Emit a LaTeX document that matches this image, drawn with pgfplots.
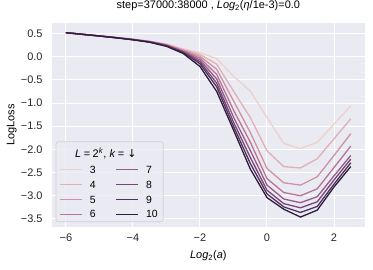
\documentclass[border=0pt]{standalone}
\usepackage{fontspec}
\setmainfont{Liberation Sans}
\newfontfamily\dejavu{DejaVu Sans}
\usepackage{pgfplots}
\usepackage{pgfplotstable}
\pgfplotsset{compat=1.18}
\definecolor{bgc}{HTML}{EAEAF2}
\definecolor{c3}{RGB}{237,209,203}
\definecolor{c4}{RGB}{225,176,180}
\definecolor{c5}{RGB}{207,145,163}
\definecolor{c6}{RGB}{184,116,150}
\definecolor{c7}{RGB}{154,91,136}
\definecolor{c8}{RGB}{119,69,118}
\definecolor{c9}{RGB}{81,49,94}
\definecolor{c10}{RGB}{45,30,62}
\pgfplotstableread{
x k3 k4 k5 k6 k7 k8 k9 k10
-6 0.52 0.52 0.52 0.52 0.52 0.52 0.52 0.52
-5.5 0.485 0.485 0.485 0.484 0.484 0.484 0.483 0.483
-5 0.45 0.45 0.45 0.449 0.449 0.448 0.448 0.447
-4.5 0.415 0.415 0.414 0.413 0.412 0.411 0.41 0.409
-4 0.38 0.378 0.376 0.374 0.372 0.37 0.368 0.366
-3.5 0.335 0.332 0.329 0.326 0.323 0.32 0.317 0.313
-3 0.275 0.268 0.262 0.255 0.248 0.241 0.233 0.225
-2.5 0.17 0.155 0.14 0.125 0.11 0.1 0.09 0.07
-2 0.09 0.05 0.01 -0.03 -0.07 -0.11 -0.15 -0.21
-1.5 -0.04 -0.16 -0.27 -0.38 -0.48 -0.57 -0.65 -0.75
-1 -0.42 -0.74 -0.95 -1.15 -1.30 -1.41 -1.50 -1.58
-0.5 -0.74 -1.31 -1.63 -1.84 -2.02 -2.17 -2.30 -2.42
0 -1.31 -2.03 -2.41 -2.63 -2.77 -2.88 -2.96 -3.04
0.5 -1.87 -2.37 -2.72 -2.93 -3.07 -3.17 -3.24 -3.29
1 -1.98 -2.40 -2.77 -3.00 -3.15 -3.26 -3.36 -3.46
1.5 -1.85 -2.20 -2.59 -2.85 -3.02 -3.13 -3.23 -3.31
2 -1.45 -1.77 -2.13 -2.39 -2.57 -2.66 -2.75 -2.81
2.5 -1.06 -1.34 -1.66 -1.93 -2.13 -2.21 -2.29 -2.37
}\data
\begin{document}
\begin{tikzpicture}
\path[use as bounding box] (-51.7bp,-42.3bp) rectangle (321.3bp,226.8bp);
\begin{axis}[
  scale only axis,
  width=313.3bp, height=203.4bp,
  xmin=-6.425, xmax=2.925,
  ymin=-3.67, ymax=0.72,
  axis background/.style={fill=bgc},
  axis line style={draw=none},
  major tick length=0pt,
  grid=major,
  grid style={white, line width=1bp},
  xtick={-6,-4,-2,0,2},
  xticklabels={−6,−4,−2,0,2},
  ytick={-3.5,-3,-2.5,-2,-1.5,-1,-0.5,0,0.5},
  yticklabels={−3.5,−3.0,−2.5,−2.0,−1.5,−1.0,−0.5,0.0,0.5},
  xticklabel style={font=\fontsize{11}{13}\selectfont, inner sep=0pt, yshift=-6.5bp, text=black!85},
  yticklabel style={font=\fontsize{11}{13}\selectfont, inner sep=0pt, xshift=-9bp, text=black!85},
  xlabel={\textit{Log}\textsubscript{2}(\textit{a})},
  ylabel={LogLoss},
  xlabel style={at={(axis description cs:0.5,-0.144)}, anchor=center, font=\fontsize{11}{13}\selectfont},
  ylabel style={at={(axis description cs:-0.1277,0.5)}, anchor=center, font=\fontsize{11}{13}\selectfont},
  title={step=37000:38000 , \textit{Log}\textsubscript{2}(\textit{η}/1e-3)=0.0},
  title style={at={(axis description cs:0.5,1.0556)}, anchor=center, font=\fontsize{11}{13}\selectfont},
  legend columns=4,
  transpose legend,
  legend image code/.code={\draw[#1] (0bp,0bp) -- (22bp,0bp);},
  legend style={at={(0.0233,0.302)}, anchor=north west, draw=none, fill=none,
    inner sep=0pt, row sep=6.3bp, font=\fontsize{10.5}{12}\selectfont,
    nodes={inner sep=0.5bp, text height=7.5bp, text depth=0pt},
    /tikz/every odd column/.append style={column sep=7bp},
    /tikz/every even column/.append style={column sep=19bp}},
  legend cell align=left,
]
\addplot[c3, line width=1.3bp] table[y=k3] {\data}; \addlegendentry{3}
\addplot[c4, line width=1.3bp] table[y=k4] {\data}; \addlegendentry{4}
\addplot[c5, line width=1.3bp] table[y=k5] {\data}; \addlegendentry{5}
\addplot[c6, line width=1.3bp] table[y=k6] {\data}; \addlegendentry{6}
\addplot[c7, line width=1.3bp] table[y=k7] {\data}; \addlegendentry{7}
\addplot[c8, line width=1.3bp] table[y=k8] {\data}; \addlegendentry{8}
\addplot[c9, line width=1.3bp] table[y=k9] {\data}; \addlegendentry{9}
\addplot[c10, line width=1.3bp] table[y=k10] {\data}; \addlegendentry{10}
\draw[fill=bgc, fill opacity=0.8, draw=black!18, line width=0.6bp, rounded corners=2.5bp]
  (rel axis cs:0.0137,0.0246) rectangle (rel axis cs:0.356,0.418);
\node[font=\fontsize{11}{13}\selectfont, anchor=center] at (rel axis cs:0.173,0.361)
  {\textit{L}\kern2.5bp=\kern2.5bp2\textsuperscript{\textit{k}}, \textit{k}\kern2.5bp=\kern3bp{\dejavu ↓}};
\end{axis}
\end{tikzpicture}
\end{document}
